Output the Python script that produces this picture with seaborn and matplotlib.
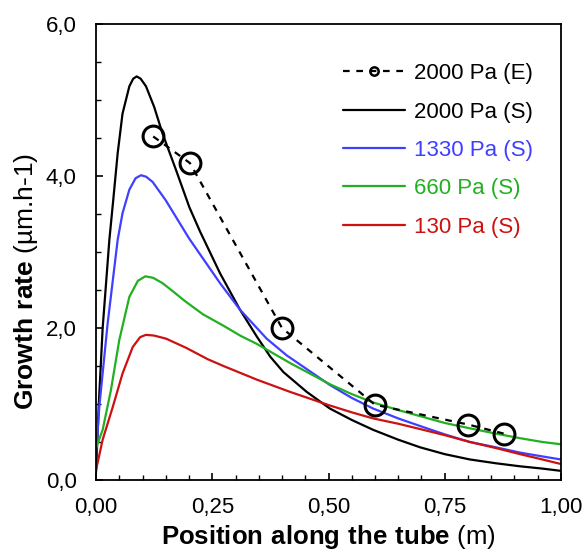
import matplotlib
matplotlib.use("Agg")
import matplotlib.pyplot as plt
from matplotlib.lines import Line2D
from matplotlib.ticker import MultipleLocator, FuncFormatter
import seaborn as sns
import pandas as pd

sns.set_theme(style="white")
plt.rcParams['font.family'] = ['Liberation Sans', 'DejaVu Sans']
plt.rcParams['mathtext.fontset'] = 'custom'
plt.rcParams['mathtext.rm'] = 'Liberation Sans'
plt.rcParams['mathtext.bf'] = 'Liberation Sans:bold'

# Experimental 2000 Pa
exp_x = [0.123, 0.202, 0.40, 0.60, 0.80, 0.877]
exp_y = [4.52, 4.17, 2.0, 0.99, 0.73, 0.61]

# Simulated 2000 Pa
s2000_x = [0.0, 0.006, 0.0143, 0.0287, 0.037, 0.0466, 0.057, 0.0717, 0.080, 0.0875, 0.096,
           0.1075, 0.125, 0.143, 0.172, 0.2007, 0.2237, 0.2667, 0.3097, 0.3455, 0.375,
           0.403, 0.453, 0.503, 0.55, 0.596, 0.65, 0.697, 0.75, 0.804, 0.86, 0.912, 0.96, 1.0]
s2000_y = [0.10, 1.00, 2.00, 3.16, 3.68, 4.30, 4.82, 5.18, 5.28, 5.31, 5.28,
           5.18, 4.91, 4.56, 4.08, 3.59, 3.27, 2.72, 2.24, 1.89, 1.62,
           1.42, 1.16, 0.94, 0.79, 0.66, 0.53, 0.43, 0.34, 0.27, 0.22, 0.18, 0.15, 0.12]

# Simulated 1330 Pa
s1330_x = [0.0, 0.007, 0.025, 0.0466, 0.057, 0.0717, 0.085, 0.0968, 0.108, 0.122, 0.15,
           0.18, 0.20, 0.2237, 0.2667, 0.3097, 0.367, 0.41, 0.453, 0.503, 0.55, 0.596,
           0.65, 0.697, 0.75, 0.804, 0.86, 0.912, 0.96, 1.0]
s1330_y = [0.30, 0.96, 2.06, 3.16, 3.51, 3.82, 3.97, 4.01, 3.99, 3.92, 3.68,
           3.38, 3.18, 2.97, 2.59, 2.24, 1.86, 1.64, 1.46, 1.25, 1.08, 0.94,
           0.81, 0.71, 0.60, 0.50, 0.43, 0.36, 0.31, 0.27]

# Simulated 660 Pa
s660_x = [0.0, 0.0143, 0.032, 0.050, 0.0717, 0.090, 0.106, 0.123, 0.143, 0.166, 0.19,
          0.23, 0.274, 0.31, 0.346, 0.417, 0.503, 0.55, 0.596, 0.65, 0.697, 0.75, 0.804,
          0.86, 0.912, 0.96, 1.0]
s660_y = [0.42, 0.66, 1.18, 1.84, 2.41, 2.62, 2.68, 2.66, 2.59, 2.48, 2.36,
          2.18, 2.03, 1.90, 1.79, 1.54, 1.26, 1.13, 1.02, 0.92, 0.84, 0.75, 0.68,
          0.61, 0.55, 0.50, 0.47]

# Simulated 130 Pa
s130_x = [0.0, 0.0143, 0.036, 0.057, 0.079, 0.095, 0.1075, 0.125, 0.1505, 0.1935, 0.24,
          0.274, 0.346, 0.417, 0.503, 0.55, 0.596, 0.65, 0.697, 0.75, 0.804, 0.86,
          0.912, 0.96, 1.0]
s130_y = [0.13, 0.53, 0.96, 1.40, 1.75, 1.88, 1.91, 1.90, 1.86, 1.74, 1.59,
          1.50, 1.32, 1.16, 0.98, 0.89, 0.81, 0.74, 0.67, 0.59, 0.50, 0.42,
          0.34, 0.27, 0.21]

labels = ["2000 Pa (E)", "2000 Pa (S)", "1330 Pa (S)", "660 Pa (S)", "130 Pa (S)"]
colors = ["#000000", "#000000", "#3F3FFF", "#22B022", "#CC1111"]

fig = plt.figure(figsize=(5.84, 5.54), dpi=100)
ax = fig.add_axes([0.1644, 0.1336, 0.7962, 0.8231])

sim = [(s2000_x, s2000_y), (s1330_x, s1330_y), (s660_x, s660_y), (s130_x, s130_y)]
for (xs, ys), c in zip(sim, colors[1:]):
    df = pd.DataFrame({"x": xs, "y": ys})
    sns.lineplot(data=df, x="x", y="y", ax=ax, color=c, lw=1.6, sort=False)

dfe = pd.DataFrame({"x": exp_x, "y": exp_y})
sns.lineplot(data=dfe, x="x", y="y", ax=ax, color="black", lw=1.6,
             linestyle=(0, (3, 3)), marker="o", markersize=15, markerfacecolor="none",
             markeredgecolor="black", markeredgewidth=2.2, sort=False)

ax.set_xlim(0, 1.0)
ax.set_ylim(0, 6.0)
ax.xaxis.set_major_locator(MultipleLocator(0.25))
ax.xaxis.set_minor_locator(MultipleLocator(0.05))
ax.yaxis.set_major_locator(MultipleLocator(2.0))
ax.yaxis.set_minor_locator(MultipleLocator(0.5))
ax.xaxis.set_major_formatter(FuncFormatter(lambda v, p: f"{v:.2f}".replace(".", ",")))
ax.yaxis.set_major_formatter(FuncFormatter(lambda v, p: f"{v:.1f}".replace(".", ",")))
ax.tick_params(which="both", direction="in", color="black", labelsize=16,
               bottom=True, left=True, top=False, right=False, labelcolor="black")
ax.tick_params(which="major", length=5, width=1.2)
ax.tick_params(which="minor", length=3.5, width=1.0)
ax.tick_params(axis="y", which="major", pad=14)
ax.tick_params(axis="x", which="major", pad=12)
for s in ax.spines.values():
    s.set_color("black")
    s.set_linewidth(1.3)

ax.set_xlabel(r"$\bf{Position\ along\ the\ tube}$ (m)", fontsize=18.5, color="black", labelpad=4)
ax.set_ylabel(r"$\bf{Growth\ rate}$ (µm.h-1)", fontsize=19, color="black", labelpad=4)
ax.yaxis.label.set_y(0.436)

handles = [Line2D([], [], color="black", lw=1.6, linestyle=(0, (3, 3)), marker="o",
                  markersize=6, markerfacecolor="none", markeredgewidth=1.8)]
handles += [Line2D([], [], color=c, lw=1.6) for c in colors[1:]]
leg = ax.legend(handles, labels, loc="upper right", bbox_to_anchor=(0.94, 0.914),
                frameon=False, fontsize=16, handlelength=2.8, handletextpad=0.4,
                labelspacing=0.78, borderaxespad=0, borderpad=0)
for t, c in zip(leg.get_texts(), colors):
    t.set_color(c)

fig.savefig("out.png", dpi=100, facecolor="white")
